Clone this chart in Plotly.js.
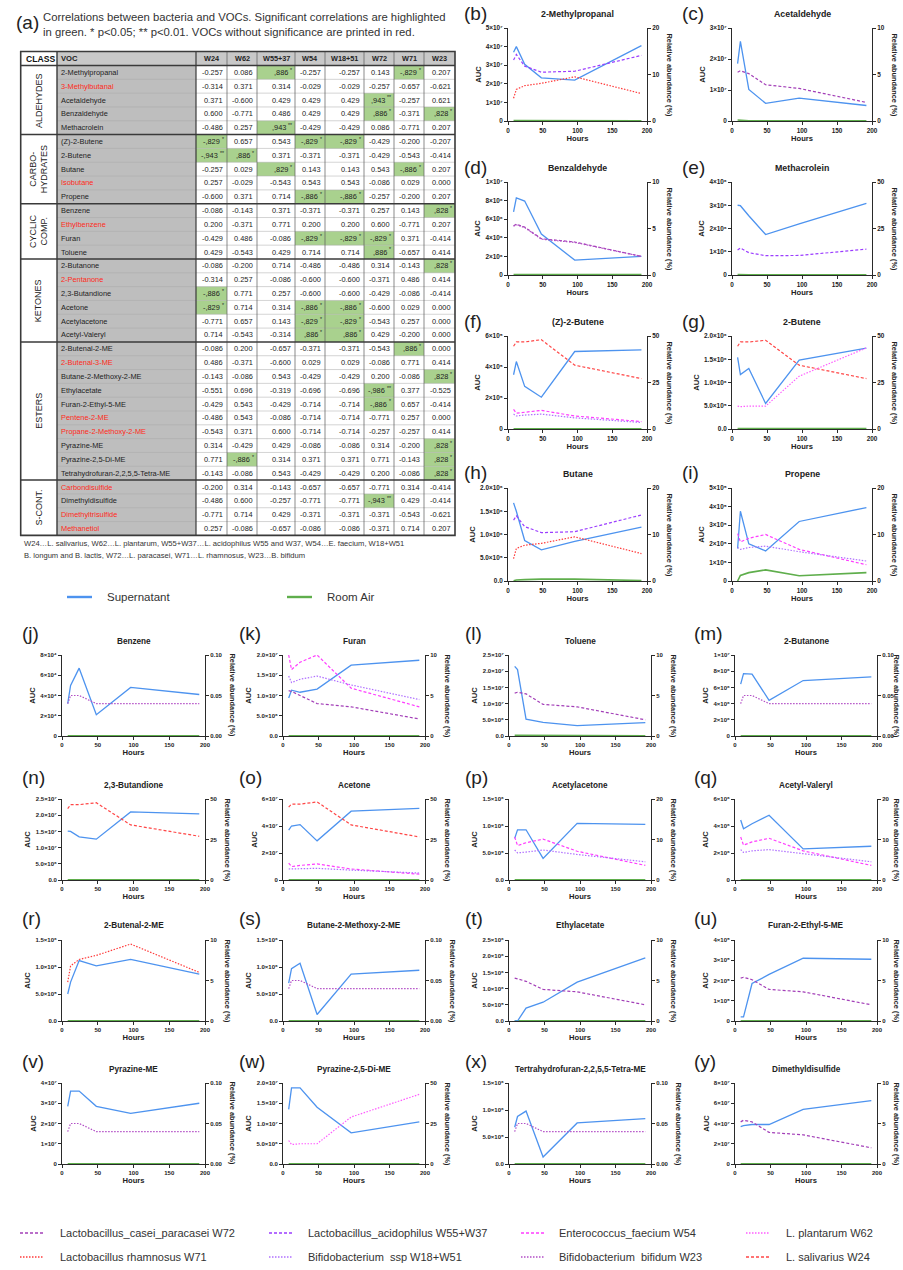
<!DOCTYPE html>
<html><head><meta charset="utf-8">
<script src="https://cdn.plot.ly/plotly-3.0.1.min.js"></script>
<style>html,body{margin:0;padding:0;background:#fff}#chart{width:903px;height:1270px}</style>
</head><body><div id="chart"></div>
<script>
// ---------------- DATA ----------------
const hours = [8, 12, 24, 48, 96, 192];
const hourTicks = [0, 50, 100, 150, 200];

// Table (a)
const tableColumns = ["W24", "W62", "W55+37", "W54", "W18+51", "W72", "W71", "W23"];
const classNames = [["ALDEHYDES"], ["CARBO-", "HYDRATES"], ["CYCLIC", "COMP."], ["KETONES"], ["ESTERS"], ["S-CONT."]];
const classSizes = [5, 5, 4, 6, 10, 4];
const vocNames = ["2-Methylpropanal","3-Methylbutanal","Acetaldehyde","Benzaldehyde","Methacrolein",
  "(Z)-2-Butene","2-Butene","Butane","Isobutane","Propene",
  "Benzene","Ethylbenzene","Furan","Toluene",
  "2-Butanone","2-Pentanone","2,3-Butandione","Acetone","Acetylacetone","Acetyl-Valeryl",
  "2-Butenal-2-ME","2-Butenal-3-ME","Butane-2-Methoxy-2-ME","Ethylacetate","Furan-2-Ethyl-5-ME",
  "Pentene-2-ME","Propane-2-Methoxy-2-ME","Pyrazine-ME","Pyrazine-2,5-Di-ME","Tetrahydrofuran-2,2,5,5-Tetra-ME",
  "Carbondisulfide","Dimethyldisulfide","Dimethyltrisulfide","Methanetiol"];
const vocsWithoutSignificance = ["3-Methylbutanal","Isobutane","Ethylbenzene","2-Pentanone","2-Butenal-3-ME",
  "Pentene-2-ME","Propane-2-Methoxy-2-ME","Carbondisulfide","Dimethyltrisulfide","Methanetiol"];
const correlations = [
  [-0.257,0.086,0.886,-0.257,-0.257,0.143,-0.829,0.207],
  [-0.314,0.371,0.314,-0.029,-0.029,-0.257,-0.657,-0.621],
  [0.371,-0.600,0.429,0.429,0.429,0.943,-0.257,0.621],
  [0.600,-0.771,0.486,0.429,0.429,0.886,-0.371,0.828],
  [-0.486,0.257,0.943,-0.429,-0.429,0.086,-0.771,0.207],
  [-0.829,0.657,0.543,-0.829,-0.829,-0.429,-0.200,-0.207],
  [-0.943,0.886,0.371,-0.371,-0.371,-0.429,-0.543,-0.414],
  [-0.257,0.029,0.829,0.143,0.143,0.543,-0.886,0.207],
  [0.257,-0.029,-0.543,0.543,0.543,-0.086,0.029,0.000],
  [-0.600,0.371,0.714,-0.886,-0.886,-0.257,-0.200,0.207],
  [-0.086,-0.143,0.371,-0.371,-0.371,0.257,0.143,0.828],
  [0.200,-0.371,0.771,0.200,0.200,0.600,-0.771,0.207],
  [-0.429,0.486,-0.086,-0.829,-0.829,-0.829,0.371,-0.414],
  [0.429,-0.543,0.429,0.714,0.714,0.886,-0.657,0.414],
  [-0.086,-0.200,0.714,-0.486,-0.486,0.314,-0.143,0.828],
  [-0.314,0.257,-0.086,-0.600,-0.600,-0.371,0.486,0.414],
  [-0.886,0.771,0.257,-0.600,-0.600,-0.429,-0.086,-0.414],
  [-0.829,0.714,0.314,-0.886,-0.886,-0.600,0.029,0.000],
  [-0.771,0.657,0.143,-0.829,-0.829,-0.543,0.257,0.000],
  [0.714,-0.543,-0.314,0.886,0.886,0.429,-0.200,0.000],
  [-0.086,0.200,-0.657,-0.371,-0.371,-0.543,0.886,0.000],
  [0.486,-0.371,-0.600,0.029,0.029,-0.086,0.771,0.414],
  [-0.143,-0.086,0.543,-0.429,-0.429,0.200,-0.086,0.828],
  [-0.551,0.696,-0.319,-0.696,-0.696,-0.986,0.377,-0.525],
  [-0.429,0.543,-0.429,-0.714,-0.714,-0.886,0.657,-0.414],
  [-0.486,0.543,-0.086,-0.714,-0.714,-0.771,0.257,0.000],
  [-0.543,0.371,0.600,-0.714,-0.714,-0.257,-0.257,0.414],
  [0.314,-0.429,0.429,-0.086,-0.086,0.314,-0.200,0.828],
  [0.771,-0.886,0.314,0.371,0.371,0.771,-0.143,0.828],
  [-0.143,-0.086,0.543,-0.429,-0.429,0.200,-0.086,0.828],
  [-0.200,0.314,-0.143,-0.657,-0.657,-0.771,0.314,-0.414],
  [-0.486,0.600,-0.257,-0.771,-0.771,-0.943,0.429,-0.414],
  [-0.771,0.714,0.429,-0.371,-0.371,-0.371,-0.543,-0.621],
  [0.257,-0.086,-0.657,-0.086,-0.086,-0.371,0.714,0.207]
];
// [row, column, stars]
const significantCells = [
  [0,2,"*"],[0,6,"*"],[2,5,"**"],[3,5,"*"],[3,7,"*"],[4,2,"**"],
  [5,0,"*"],[5,3,"*"],[5,4,"*"],[6,0,"**"],[6,1,"*"],[7,2,"*"],[7,6,"*"],[9,3,"*"],[9,4,"*"],
  [10,7,"*"],[12,3,"*"],[12,4,"*"],[12,5,"*"],[13,5,"*"],
  [14,7,"*"],[16,0,"*"],[17,0,"*"],[17,3,"*"],[17,4,"*"],[18,3,"*"],[18,4,"*"],[19,3,"*"],[19,4,"*"],
  [20,6,"*"],[22,7,"*"],[23,5,"**"],[24,5,"*"],[27,7,"*"],[28,1,"*"],[28,7,"*"],[29,7,"*"],
  [31,5,"**"]
];

// Species (legend) labels
const speciesLabels = {
  W72: "Lactobacillus_casei_paracasei W72", W55_37: "Lactobacillus_acidophilus W55+W37",
  W54: "Enterococcus_faecium W54", W62: "L. plantarum W62",
  W71: "Lactobacillus rhamnosus W71", W18_51: "Bifidobacterium  ssp W18+W51",
  W23: "Bifidobacterium  bifidum W23", W24: "L. salivarius W24"
};
const speciesLegendRows = [["W72","W55_37","W54","W62"],["W71","W18_51","W23","W24"]];

// (b) 2-Methylpropanal
const b_supernatant = [3.7e7, 4.0e7, 3.05e7, 2.32e7, 2.2e7, 4.05e7];
const b_roomAir = [2e5, 2e5, 1e5, 1e5, 1e5, 1e5];
const b_W55_37 = [13.1, 14.3, 11.8, 10.5, 10.7, 14.1];
const b_W71 = [4.9, 6.8, 7.6, 8.1, 9.5, 5.9];
const b_aucTicks = ["0","1×10^7","2×10^7","3×10^7","4×10^7","5×10^7"];
const b_relTicks = ["0","10","20"];
// (c) Acetaldehyde
const c_supernatant = [1.85e7, 2.57e7, 1.02e7, 0.57e7, 0.74e7, 0.5e7];
const c_roomAir = [3e5, 2e5, 1e5, 1e5, 1e5, 1e5];
const c_W72 = [5.25, 5.4, 5.1, 3.9, 3.5, 2.0];
const c_aucTicks = ["0","1×10^7","2×10^7","3×10^7"];
const c_relTicks = ["0","5","10"];
// (d) Benzaldehyde
const d_supernatant = [6.8e6, 8.3e6, 7.95e6, 4.4e6, 1.6e6, 2.0e6];
const d_roomAir = [6e4, 6e4, 5e4, 5e4, 4e4, 4e4];
const d_W72 = [5.3, 5.45, 5.15, 3.9, 3.55, 2.0];
const d_W23 = [5.25, 5.4, 5.1, 3.85, 3.5, 2.0];
const d_aucTicks = ["0","2×10^6","4×10^6","6×10^6","8×10^6","1×10^7"];
const d_relTicks = ["0","5","10"];
// (e) Methacrolein
const e_supernatant = [3.0e6, 2.98e6, 2.55e6, 1.74e6, 2.2e6, 3.08e6];
const e_roomAir = [2e4, 1e4, 1e4, 1e4, 1e4, 1e4];
const e_W55_37 = [13.4, 14.5, 12.0, 10.4, 10.5, 13.9];
const e_aucTicks = ["0","1×10^6","2×10^6","3×10^6","4×10^6"];
const e_relTicks = ["0","25","50"];
// (f) (Z)-2-Butene
const f_supernatant = [3.5e5, 4.35e5, 2.75e5, 2.05e5, 5.0e5, 5.1e5];
const f_roomAir = [1e3, 1e3, 1e3, 1e3, 1e3, 1e3];
const f_W24 = [44.5, 46.8, 46.8, 48.0, 34.3, 27.1];
const f_W54 = [10.5, 8.5, 9.0, 10.0, 7.0, 4.0];
const f_W18_51 = [8.0, 7.0, 7.5, 8.0, 6.0, 3.5];
const f_aucTicks = ["0","2×10^5","4×10^5","6×10^5"];
const f_relTicks = ["0","25","50"];
// (g) 2-Butene
const g_supernatant = [1.54e6, 1.17e6, 1.3e6, 0.55e6, 1.48e6, 1.74e6];
const g_roomAir = [1e4, 1e4, 1e4, 1e4, 1e4, 1e4];
const g_W24 = [44.5, 46.8, 46.8, 47.7, 34.3, 27.1];
const g_W62 = [12.3, 12.0, 12.3, 12.3, 28.4, 43.6];
const g_aucTicks = ["0.0","5.0×10^5","1.0×10^6","1.5×10^6","2.0×10^6"];
const g_relTicks = ["0","25","50"];
// (h) Butane
const h_supernatant = [1.68e6, 1.5e6, 0.87e6, 0.67e6, 0.85e6, 1.16e6];
const h_roomAir = [5e3, 2e4, 3e4, 4e4, 4e4, 1e4];
const h_W55_37 = [13.1, 14.0, 11.7, 10.4, 10.6, 14.2];
const h_W71 = [4.8, 7.0, 7.7, 8.1, 9.5, 5.9];
const h_aucTicks = ["0.0","5.0×10^5","1.0×10^6","1.5×10^6","2.0×10^6"];
const h_relTicks = ["0","10","20"];
// (i) Propene
const i_supernatant = [1.75e5, 3.75e5, 2.0e5, 1.62e5, 3.2e5, 3.95e5];
const i_roomAir = [0, 0.3e5, 0.45e5, 0.6e5, 0.28e5, 0.45e5];
const i_W54 = [10.2, 8.4, 9.2, 10.0, 6.8, 3.5];
const i_W18_51 = [7.2, 6.8, 7.2, 7.5, 6.3, 4.3];
const i_aucTicks = ["0","1×10^5","2×10^5","3×10^5","4×10^5","5×10^5"];
const i_relTicks = ["0","10","20"];
// (j) Benzene
const j_supernatant = [3.2e4, 5.0e4, 6.7e4, 2.1e4, 4.8e4, 4.1e4];
const j_roomAir = [3e2, 3e2, 3e2, 3e2, 3e2, 3e2];
const j_W23 = [0.04, 0.05, 0.05, 0.04, 0.04, 0.04];
const j_aucTicks = ["0","2×10^4","4×10^4","6×10^4","8×10^4"];
const j_relTicks = ["0.00","0.05","0.10"];
// (k) Furan
const k_supernatant = [0.94e7, 1.13e7, 1.08e7, 1.16e7, 1.75e7, 1.87e7];
const k_roomAir = [5e4, 5e4, 5e4, 5e4, 5e4, 5e4];
const k_W54 = [10.0, 8.2, 9.1, 10.0, 5.9, 3.6];
const k_W18_51 = [7.4, 6.6, 7.0, 7.4, 6.3, 4.5];
const k_W72 = [5.6, 5.5, 5.0, 4.0, 3.6, 2.1];
const k_aucTicks = ["0.0","5.0×10^6","1.0×10^7","1.5×10^7","2.0×10^7"];
const k_relTicks = ["0","5","10"];
// (l) Toluene
const l_supernatant = [2.15e7, 2.05e7, 0.52e7, 0.42e7, 0.32e7, 0.41e7];
const l_roomAir = [2e5, 2e5, 2e5, 2e5, 1e5, 1e5];
const l_W72 = [5.3, 5.4, 5.2, 3.9, 3.6, 2.0];
const l_aucTicks = ["0.0","5.0×10^6","1.0×10^7","1.5×10^7","2.0×10^7","2.5×10^7"];
const l_relTicks = ["0","5","10"];
// (m) 2-Butanone
const m_supernatant = [6.4e6, 7.7e6, 7.65e6, 4.4e6, 6.85e6, 7.3e6];
const m_roomAir = [3e4, 3e4, 3e4, 3e4, 3e4, 3e4];
const m_W23 = [0.04, 0.05, 0.05, 0.04, 0.04, 0.04];
const m_aucTicks = ["0","2×10^6","4×10^6","6×10^6","8×10^6","1×10^7"];
const m_relTicks = ["0.00","0.05","0.10"];
// (n) 2,3-Butandione
const n_supernatant = [1.51e7, 1.5e7, 1.33e7, 1.26e7, 2.1e7, 2.04e7];
const n_roomAir = [5e4, 5e4, 5e4, 5e4, 5e4, 5e4];
const n_W24 = [44.0, 46.5, 46.5, 47.7, 34.0, 27.0];
const n_aucTicks = ["0.0","5.0×10^6","1.0×10^7","1.5×10^7","2.0×10^7","2.5×10^7"];
const n_relTicks = ["0","25","50"];
// (o) Acetone
const o_supernatant = [3.7e7, 4.0e7, 4.1e7, 2.9e7, 5.1e7, 5.3e7];
const o_roomAir = [2e5, 2e5, 2e5, 2e5, 2e5, 2e5];
const o_W24 = [45.0, 46.8, 46.8, 48.2, 34.0, 26.6];
const o_W54 = [10.4, 8.3, 9.0, 9.9, 6.8, 3.6];
const o_W18_51 = [6.8, 6.8, 6.9, 7.2, 6.1, 4.3];
const o_aucTicks = ["0","2×10^7","4×10^7","6×10^7"];
const o_relTicks = ["0","25","50"];
// (p) Acetylacetone
const p_supernatant = [0.77e6, 0.93e6, 0.93e6, 0.4e6, 1.05e6, 1.03e6];
const p_roomAir = [5e3, 5e3, 5e3, 5e3, 5e3, 5e3];
const p_W54 = [10.6, 8.5, 9.2, 10.1, 7.1, 3.6];
const p_W18_51 = [7.4, 6.7, 6.9, 7.4, 6.3, 4.5];
const p_aucTicks = ["0.0","5.0×10^5","1.0×10^6","1.5×10^6"];
const p_relTicks = ["0","10","20"];
// (q) Acetyl-Valeryl
const q_supernatant = [4.45e6, 3.8e6, 4.17e6, 4.8e6, 2.3e6, 2.5e6];
const q_roomAir = [2e4, 2e4, 2e4, 2e4, 2e4, 2e4];
const q_W54 = [10.6, 8.6, 9.4, 10.3, 7.2, 3.6];
const q_W18_51 = [7.5, 6.8, 7.2, 7.5, 6.5, 4.5];
const q_aucTicks = ["0","2×10^6","4×10^6","6×10^6"];
const q_relTicks = ["0","10","20"];
// (r) 2-Butenal-2-ME
const r_supernatant = [0.5e6, 0.72e6, 1.12e6, 1.02e6, 1.14e6, 0.87e6];
const r_roomAir = [5e3, 5e3, 5e3, 5e3, 5e3, 5e3];
const r_W71 = [4.8, 6.8, 7.6, 8.1, 9.5, 6.0];
const r_aucTicks = ["0.0","5.0×10^5","1.0×10^6","1.5×10^6"];
const r_relTicks = ["0","5","10"];
// (s) Butane-2-Methoxy-2-ME
const s_supernatant = [0.7e6, 0.97e6, 1.07e6, 0.12e6, 0.87e6, 0.94e6];
const s_roomAir = [5e3, 5e3, 5e3, 5e3, 5e3, 5e3];
const s_W23 = [0.04, 0.05, 0.05, 0.04, 0.04, 0.04];
const s_aucTicks = ["0.0","5.0×10^5","1.0×10^6","1.5×10^6"];
const s_relTicks = ["0.00","0.05","0.10"];
// (t) Ethylacetate
const t_supernatant = [0, 0, 0.4e6, 0.58e6, 1.2e6, 1.95e6];
const t_roomAir = [1e4, 1e4, 1e4, 1e4, 1e4, 1e4];
const t_W72 = [5.3, 5.2, 4.9, 3.9, 3.6, 2.0];
const t_aucTicks = ["0.0","5.0×10^5","1.0×10^6","1.5×10^6","2.0×10^6","2.5×10^6"];
const t_relTicks = ["0","5","10"];
// (u) Furan-2-Ethyl-5-ME
const u_supernatant = [0.2e5, 0.2e5, 1.85e5, 2.3e5, 3.1e5, 3.05e5];
const u_roomAir = [1e3, 1e3, 1e3, 1e3, 1e3, 1e3];
const u_W72 = [5.3, 5.4, 5.1, 3.9, 3.6, 2.0];
const u_aucTicks = ["0","1×10^5","2×10^5","3×10^5","4×10^5"];
const u_relTicks = ["0","5","10"];
// (v) Pyrazine-ME
const v_supernatant = [2.85e7, 3.6e7, 3.6e7, 2.85e7, 2.5e7, 3.0e7];
const v_roomAir = [1e5, 1e5, 1e5, 1e5, 1e5, 1e5];
const v_W23 = [0.04, 0.05, 0.05, 0.04, 0.04, 0.04];
const v_aucTicks = ["0","1×10^7","2×10^7","3×10^7","4×10^7"];
const v_relTicks = ["0.00","0.05","0.10"];
// (w) Pyrazine-2,5-Di-ME
const w_supernatant = [1.35e7, 1.88e7, 1.88e7, 1.4e7, 0.77e7, 1.04e7];
const w_roomAir = [5e4, 5e4, 5e4, 5e4, 5e4, 5e4];
const w_W62 = [14.5, 12.0, 12.5, 12.5, 29.0, 43.0];
const w_aucTicks = ["0.0","5.0×10^6","1.0×10^7","1.5×10^7","2.0×10^7"];
const w_relTicks = ["0","25","50"];
// (x) Tetrahydrofuran-2,2,5,5-Tetra-ME
const x_supernatant = [0.68e6, 0.88e6, 0.98e6, 0.13e6, 0.76e6, 0.84e6];
const x_roomAir = [5e3, 5e3, 5e3, 5e3, 5e3, 5e3];
const x_W23 = [0.04, 0.05, 0.05, 0.04, 0.04, 0.04];
const x_aucTicks = ["0.0","5.0×10^5","1.0×10^6","1.5×10^6"];
const x_relTicks = ["0.00","0.05","0.10"];
// (y) Dimethyldisulfide
const y_supernatant = [3.7e7, 3.8e7, 3.9e7, 3.9e7, 5.4e7, 6.25e7];
const y_roomAir = [2e5, 2e5, 2e5, 2e5, 2e5, 2e5];
const y_W72 = [5.2, 5.4, 5.2, 3.9, 3.6, 2.0];
const y_aucTicks = ["0","2×10^7","4×10^7","6×10^7","8×10^7"];
const y_relTicks = ["0","5","10"];

const panels = [
  {letter:"b", title:"2-Methylpropanal", sup:b_supernatant, air:b_roomAir, species:[["W55_37",b_W55_37],["W71",b_W71]], auc:b_aucTicks, rel:b_relTicks},
  {letter:"c", title:"Acetaldehyde", sup:c_supernatant, air:c_roomAir, species:[["W72",c_W72]], auc:c_aucTicks, rel:c_relTicks},
  {letter:"d", title:"Benzaldehyde", sup:d_supernatant, air:d_roomAir, species:[["W72",d_W72],["W23",d_W23]], auc:d_aucTicks, rel:d_relTicks},
  {letter:"e", title:"Methacrolein", sup:e_supernatant, air:e_roomAir, species:[["W55_37",e_W55_37]], auc:e_aucTicks, rel:e_relTicks},
  {letter:"f", title:"(Z)-2-Butene", sup:f_supernatant, air:f_roomAir, species:[["W24",f_W24],["W54",f_W54],["W18_51",f_W18_51]], auc:f_aucTicks, rel:f_relTicks},
  {letter:"g", title:"2-Butene", sup:g_supernatant, air:g_roomAir, species:[["W24",g_W24],["W62",g_W62]], auc:g_aucTicks, rel:g_relTicks},
  {letter:"h", title:"Butane", sup:h_supernatant, air:h_roomAir, species:[["W55_37",h_W55_37],["W71",h_W71]], auc:h_aucTicks, rel:h_relTicks},
  {letter:"i", title:"Propene", sup:i_supernatant, air:i_roomAir, species:[["W54",i_W54],["W18_51",i_W18_51]], auc:i_aucTicks, rel:i_relTicks},
  {letter:"j", title:"Benzene", sup:j_supernatant, air:j_roomAir, species:[["W23",j_W23]], auc:j_aucTicks, rel:j_relTicks},
  {letter:"k", title:"Furan", sup:k_supernatant, air:k_roomAir, species:[["W54",k_W54],["W18_51",k_W18_51],["W72",k_W72]], auc:k_aucTicks, rel:k_relTicks},
  {letter:"l", title:"Toluene", sup:l_supernatant, air:l_roomAir, species:[["W72",l_W72]], auc:l_aucTicks, rel:l_relTicks},
  {letter:"m", title:"2-Butanone", sup:m_supernatant, air:m_roomAir, species:[["W23",m_W23]], auc:m_aucTicks, rel:m_relTicks},
  {letter:"n", title:"2,3-Butandione", sup:n_supernatant, air:n_roomAir, species:[["W24",n_W24]], auc:n_aucTicks, rel:n_relTicks},
  {letter:"o", title:"Acetone", sup:o_supernatant, air:o_roomAir, species:[["W24",o_W24],["W54",o_W54],["W18_51",o_W18_51]], auc:o_aucTicks, rel:o_relTicks},
  {letter:"p", title:"Acetylacetone", sup:p_supernatant, air:p_roomAir, species:[["W54",p_W54],["W18_51",p_W18_51]], auc:p_aucTicks, rel:p_relTicks},
  {letter:"q", title:"Acetyl-Valeryl", sup:q_supernatant, air:q_roomAir, species:[["W54",q_W54],["W18_51",q_W18_51]], auc:q_aucTicks, rel:q_relTicks},
  {letter:"r", title:"2-Butenal-2-ME", sup:r_supernatant, air:r_roomAir, species:[["W71",r_W71]], auc:r_aucTicks, rel:r_relTicks},
  {letter:"s", title:"Butane-2-Methoxy-2-ME", sup:s_supernatant, air:s_roomAir, species:[["W23",s_W23]], auc:s_aucTicks, rel:s_relTicks},
  {letter:"t", title:"Ethylacetate", sup:t_supernatant, air:t_roomAir, species:[["W72",t_W72]], auc:t_aucTicks, rel:t_relTicks},
  {letter:"u", title:"Furan-2-Ethyl-5-ME", sup:u_supernatant, air:u_roomAir, species:[["W72",u_W72]], auc:u_aucTicks, rel:u_relTicks},
  {letter:"v", title:"Pyrazine-ME", sup:v_supernatant, air:v_roomAir, species:[["W23",v_W23]], auc:v_aucTicks, rel:v_relTicks},
  {letter:"w", title:"Pyrazine-2,5-Di-ME", sup:w_supernatant, air:w_roomAir, species:[["W62",w_W62]], auc:w_aucTicks, rel:w_relTicks},
  {letter:"x", title:"Tertrahydrofuran-2,2,5,5-Tetra-ME", sup:x_supernatant, air:x_roomAir, species:[["W23",x_W23]], auc:x_aucTicks, rel:x_relTicks},
  {letter:"y", title:"Dimethyldisulfide", sup:y_supernatant, air:y_roomAir, species:[["W72",y_W72]], auc:y_aucTicks, rel:y_relTicks}
];

// ---------------- STYLE / LAYOUT ----------------
const W = 903, H = 1270;
const X = v => v / W;
const Y = v => 1 - v / H;
const FONT = "Liberation Sans, Arial, Helvetica, sans-serif";
const SUP_COLOR = "#4d93ef", AIR_COLOR = "#5fae4c";
const speciesStyle = {
  W72:   {color:"#a33fb8", dash:"3px,2px"},
  W55_37:{color:"#9b3dff", dash:"3px,2px"},
  W54:   {color:"#ff3dff", dash:"3px,2px"},
  W62:   {color:"#ff5cff", dash:"1.5px,1.5px"},
  W71:   {color:"#ff3b3b", dash:"1.5px,1.5px"},
  W18_51:{color:"#b070ff", dash:"1.5px,1.5px"},
  W23:   {color:"#b24ec6", dash:"1.5px,1.5px"},
  W24:   {color:"#ff4646", dash:"3px,2px"}
};

const shapes = [], annotations = [], traces = [];
function ann(text, x, y, font, extra) {
  annotations.push(Object.assign({text:text, x:X(x), y:Y(y), xref:"paper", yref:"paper", showarrow:false,
    xanchor:"center", yanchor:"middle", font:Object.assign({family:FONT, size:8, color:"#222"}, font || {})}, extra || {}));
}
function rect(x0, y0, x1, y1, fill) {
  shapes.push({type:"rect", xref:"paper", yref:"paper", x0:X(x0), x1:X(x1), y0:Y(y1), y1:Y(y0), fillcolor:fill, line:{width:0}, layer:"below"});
}
function seg(x0, y0, x1, y1, color, width, dash) {
  shapes.push({type:"line", xref:"paper", yref:"paper", x0:X(x0), x1:X(x1), y0:Y(y0), y1:Y(y1), line:{color:color, width:width, dash:dash || "solid"}});
}

// ---- Table (a) ----
ann("(a)", 14, 22, {size:19, color:"#222"}, {xanchor:"left"});
ann("Correlations between bacteria and VOCs. Significant correlations are highlighted", 41, 17, {size:11.3, color:"#333"}, {xanchor:"left"});
ann("in green. * p<0.05; ** p<0.01. VOCs without significance are printed in red.", 41, 32, {size:11.3, color:"#333"}, {xanchor:"left"});

const colEdges = [20.7, 57, 196, 227, 257, 295, 325, 364, 394, 424, 455];
const tTop = 51.5, hdrBot = 65.5, rowH = 13.82;
const tBot = hdrBot + vocNames.length * rowH;
const rowTop = i => hdrBot + i * rowH;

rect(colEdges[1], tTop, colEdges[10], hdrBot, "#c8c8c8");
rect(colEdges[1], hdrBot, colEdges[2], tBot, "#bebebe");
significantCells.forEach(([r, c]) => rect(colEdges[c + 2], rowTop(r), colEdges[c + 3], rowTop(r + 1), "#a9d18e"));

const groupStarts = [];
let acc = 0;
classSizes.forEach(s => { groupStarts.push(acc); acc += s; });
for (let i = 1; i < vocNames.length; i++) {
  if (groupStarts.indexOf(i) < 0) seg(colEdges[1], rowTop(i), colEdges[10], rowTop(i), "#a8a8a8", 0.5);
}
for (let c = 3; c <= 9; c++) seg(colEdges[c], tTop, colEdges[c], tBot, "#5a5a5a", 0.7);
groupStarts.slice(1).forEach(i => seg(colEdges[0], rowTop(i), colEdges[10], rowTop(i), "#3a3a3a", 1.5));
seg(colEdges[0], hdrBot, colEdges[10], hdrBot, "#3a3a3a", 1.5);
seg(colEdges[1], tTop, colEdges[1], tBot, "#3a3a3a", 1.4);
seg(colEdges[2], tTop, colEdges[2], tBot, "#3a3a3a", 1.2);
shapes.push({type:"rect", xref:"paper", yref:"paper", x0:X(colEdges[0]), x1:X(colEdges[10]), y0:Y(tBot), y1:Y(tTop), line:{color:"#3a3a3a", width:1.6}, fillcolor:"rgba(0,0,0,0)"});

ann("CLASS", 24, (tTop + hdrBot) / 2, {size:8.6, weight:"bold", color:"#111"}, {xanchor:"left"});
ann("VOC", 59, (tTop + hdrBot) / 2, {size:7.6, weight:"bold", color:"#222"}, {xanchor:"left"});
tableColumns.forEach((name, c) => ann(name, (colEdges[c + 2] + colEdges[c + 3]) / 2, (tTop + hdrBot) / 2, {size:7.3, weight:"bold", color:"#222"}));

classNames.forEach((lines, g) => {
  const y0 = rowTop(groupStarts[g]), y1 = rowTop(groupStarts[g] + classSizes[g]);
  const cx = (colEdges[0] + colEdges[1]) / 2;
  lines.forEach((line, li) => {
    const off = (li - (lines.length - 1) / 2) * 10.5;
    ann(line, cx + off, (y0 + y1) / 2, {size:9, color:"#222"}, {textangle:-90});
  });
});

const starsAt = {};
significantCells.forEach(([r, c, s]) => { starsAt[r + "_" + c] = s; });
vocNames.forEach((name, r) => {
  const cy = rowTop(r) + rowH / 2;
  const red = vocsWithoutSignificance.indexOf(name) >= 0;
  ann(name, 59, cy, {size:7.4, color: red ? "#ff2a1a" : "#222"}, {xanchor:"left"});
  correlations[r].forEach((v, c) => {
    const s = starsAt[r + "_" + c];
    const right = colEdges[c + 3] - 2;
    if (s) {
      const starW = s.length * 2.6;
      ann((v < 0 ? "-" : "") + "," + Math.abs(v).toFixed(3).slice(2), right - starW, cy, {size:7.4, color:"#222"}, {xanchor:"right"});
      ann(s, right + 0.5, cy - 2.6, {size:5.2, color:"#222"}, {xanchor:"right"});
    } else {
      ann(v.toFixed(3), right, cy, {size:7.4, color:"#222"}, {xanchor:"right"});
    }
  });
});
ann("W24…L. salivarius, W62…L. plantarum, W55+W37…L. acidophilus W55 and W37, W54…E. faecium, W18+W51", 22, 543, {size:7.6, color:"#333"}, {xanchor:"left"});
ann("B. longum and B. lactis, W72…L. paracasei, W71…L. rhamnosus, W23…B. bifidum", 22, 555, {size:7.6, color:"#333"}, {xanchor:"left"});

// ---- Supernatant / Room Air legend ----
seg(67, 597, 92, 597, SUP_COLOR, 2.4);
ann("Supernatant", 105, 597, {size:11.5, color:"#333"}, {xanchor:"left"});
seg(287, 597, 312, 597, AIR_COLOR, 2.4);
ann("Room Air", 325, 597, {size:11.5, color:"#333"}, {xanchor:"left"});

// ---- species legend ----
const legColLine = [20, 269, 521, 746], legColText = [58, 306, 557, 784], legRowY = [1233, 1257];
speciesLegendRows.forEach((row, ri) => row.forEach((key, ci) => {
  const st = speciesStyle[key];
  seg(legColLine[ci], legRowY[ri], legColLine[ci] + 23, legRowY[ri], st.color, 1.6, st.dash);
  ann(speciesLabels[key], legColText[ci], legRowY[ri], {size:11, color:"#333"}, {xanchor:"left"});
}));

// ---- chart panels ----
const topCols = [[508, 647], [732, 872]], topLetterX = [462, 680], topRows = [28, 182, 336, 488], topH = 93;
const botCols = [[62, 205], [283, 425], [509, 651], [735, 877]], botLetterX = [20, 237, 463, 692], botRows = [655, 799, 940, 1083], botH = 81;
const positions = [];
topRows.forEach(t => topCols.forEach((c, ci) => positions.push({x0:c[0], x1:c[1], top:t, h:topH, lx:topLetterX[ci], tsize:8.8, ly:t - 15, ty:t - 14, tick:6.4})));
botRows.forEach(t => botCols.forEach((c, ci) => positions.push({x0:c[0], x1:c[1], top:t, h:botH, lx:botLetterX[ci], tsize:8.2, ly:t - 22, ty:t - 14, tick:6.0})));

const SUPDIGITS = {"0":"⁰","1":"¹","2":"²","3":"³","4":"⁴","5":"⁵","6":"⁶","7":"⁷","8":"⁸","9":"⁹","-":"⁻"};
function parseTick(lbl) {
  const m = lbl.split("×10^");
  return m.length === 2 ? parseFloat(m[0]) * Math.pow(10, parseInt(m[1], 10)) : parseFloat(lbl);
}
function tickText(lbl) {
  const m = lbl.split("×10^");
  return m.length === 2 ? m[0] + "×10" + m[1].split("").map(ch => SUPDIGITS[ch] || ch).join("") : lbl;
}
const axisTitleFont = {family:FONT, size:7.6, color:"#222", weight:"bold"};

const layout = {
  width:W, height:H, margin:{l:0, r:0, t:0, b:0}, paper_bgcolor:"#ffffff", plot_bgcolor:"rgba(0,0,0,0)",
  showlegend:false, font:{family:FONT, color:"#222"}, hovermode:false
};

panels.forEach((p, k) => {
  const pos = positions[k];
  const n = k + 1, yl = 2 * k + 1, yr = 2 * k + 2;
  const xId = n === 1 ? "x" : "x" + n, xKey = n === 1 ? "xaxis" : "xaxis" + n;
  const ylId = yl === 1 ? "y" : "y" + yl, ylKey = yl === 1 ? "yaxis" : "yaxis" + yl;
  const yrId = "y" + yr, yrKey = "yaxis" + yr;
  const aucVals = p.auc.map(parseTick), relVals = p.rel.map(parseTick);
  const tickFont = {family:FONT, size:pos.tick, color:"#222", weight:"bold"};
  const common = {showline:true, linecolor:"#2a2a2a", linewidth:1, ticks:"outside", ticklen:3, tickwidth:1, tickcolor:"#2a2a2a",
    tickfont:tickFont, showgrid:false, zeroline:false, fixedrange:true};
  layout[xKey] = Object.assign({}, common, {domain:[X(pos.x0), X(pos.x1)], anchor:ylId, range:[0, 200], tickmode:"array", tickvals:hourTicks,
    title:{text:"Hours", font:axisTitleFont, standoff:2}, layer:"below traces"});
  layout[ylKey] = Object.assign({}, common, {domain:[Y(pos.top + pos.h), Y(pos.top)], anchor:xId, range:[0, aucVals[aucVals.length - 1]],
    tickmode:"array", tickvals:aucVals, ticktext:p.auc.map(tickText), title:{text:"AUC", font:axisTitleFont, standoff:3}});
  layout[yrKey] = Object.assign({}, common, {overlaying:ylId, side:"right", anchor:xId, range:[0, relVals[relVals.length - 1]],
    tickmode:"array", tickvals:relVals, ticktext:p.rel});

  traces.push({type:"scatter", mode:"lines", x:hours, y:p.air, xaxis:xId, yaxis:ylId, line:{color:AIR_COLOR, width:1.6}, hoverinfo:"skip"});
  traces.push({type:"scatter", mode:"lines", x:hours, y:p.sup, xaxis:xId, yaxis:ylId, line:{color:SUP_COLOR, width:1.3}, hoverinfo:"skip"});
  p.species.forEach(([key, vals]) => {
    const st = speciesStyle[key];
    traces.push({type:"scatter", mode:"lines", x:hours, y:vals, xaxis:xId, yaxis:yrId, line:{color:st.color, width:1.2, dash:st.dash}, hoverinfo:"skip"});
  });

  const wideRel = p.rel[p.rel.length - 1].length > 2;
  const relX = Math.min(pos.x1 + (wideRel ? 27 : 22), 896);
  ann("(" + p.letter + ")", pos.lx, pos.ly, {size:19, color:"#222"}, {xanchor:"left"});
  ann(p.title, (pos.x0 + pos.x1) / 2, pos.ty, {size:pos.tsize, weight:"bold", color:"#222"});
  ann("Relative abundance (%)", relX, pos.top + pos.h / 2, {size:7.4, weight:"bold", color:"#222"}, {textangle:90});
});

layout.shapes = shapes;
layout.annotations = annotations;
Plotly.newPlot("chart", traces, layout, {staticPlot:true, displayModeBar:false});
</script></body></html>
